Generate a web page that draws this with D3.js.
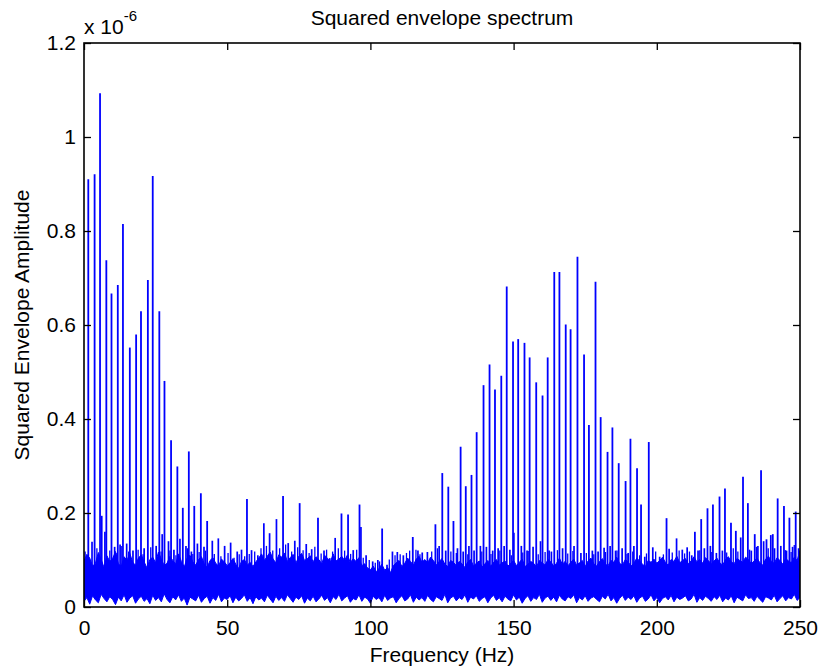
<!DOCTYPE html>
<html>
<head>
<meta charset="utf-8">
<script src="https://cdn.jsdelivr.net/npm/d3@7"></script>
<style>
  body { margin: 0; background: #fff; }
  svg text { font-family: "Liberation Sans", Arial, Helvetica, sans-serif; fill: #000; }
</style>
</head>
<body>
<div id="chart"></div>
<script>
const width = 819
const height = 670
const margin = {top: 43, right: 19, bottom: 63, left: 84}

// tick labels
const xTicks = [0, 50, 100, 150, 200, 250]
const yTicks = [0, 0.2, 0.4, 0.6, 0.8, 1, 1.2]

// harmonic peaks (Hz, amplitude x 1e-6)
const peakHz = [1.5, 3.7, 5.6, 7.8, 9.6, 11.8, 13.6, 16.0, 18.2, 19.9, 22.3, 24.0, 26.3, 28.1, 30.4, 32.6, 34.5, 36.6, 38.5, 40.8, 43.0,
  56.9, 69.5, 75.3, 81.7, 89.9, 92.2, 96.2, 104.1, 114.8, 122.7,
  125.1, 127.2, 129.0, 131.5, 133.3, 135.3, 137.1, 139.5, 141.6, 143.5, 145.7, 147.6, 149.8, 151.6, 153.8, 155.6, 157.9, 160.1, 161.9,
  164.2, 166.0, 168.2, 169.9, 172.3, 174.6, 176.3, 178.6, 180.4, 182.8, 184.5, 186.7, 189.1, 190.8, 193.1, 194.5, 197.2,
  203.4, 213.3, 215.5, 217.7, 219.6, 221.9, 223.8, 225.9, 227.6, 230.1, 231.8, 234.2, 236.4, 238.3, 240.5, 242.2, 244.4, 246.3, 248.5]
const peakAmp = [0.910, 0.921, 1.093, 0.738, 0.667, 0.685, 0.815, 0.552, 0.580, 0.629, 0.696, 0.917, 0.629, 0.481, 0.355, 0.299, 0.211, 0.331, 0.215, 0.242, 0.183,
  0.230, 0.236, 0.221, 0.190, 0.199, 0.197, 0.218, 0.167, 0.149, 0.176,
  0.285, 0.256, 0.183, 0.341, 0.257, 0.281, 0.372, 0.472, 0.516, 0.463, 0.492, 0.682, 0.565, 0.570, 0.562, 0.531, 0.478, 0.450, 0.531,
  0.713, 0.713, 0.601, 0.591, 0.745, 0.537, 0.387, 0.692, 0.404, 0.330, 0.382, 0.306, 0.268, 0.358, 0.295, 0.218, 0.351,
  0.189, 0.160, 0.187, 0.210, 0.218, 0.235, 0.252, 0.179, 0.162, 0.277, 0.221, 0.155, 0.291, 0.144, 0.155, 0.231, 0.215, 0.190, 0.203]

// noise spikes poking out of the floor
const spikeHz = [2.8, 6.2, 7.3, 10.7, 12.6, 14.9, 17.1, 21.0, 25.2, 27.3, 29.5, 31.4, 33.5, 35.6, 37.5, 39.6, 41.9, 44.8, 46.9, 49.1,
  51.2, 53.5, 55.0, 58.5, 60.7, 62.8, 64.8, 67.2, 71.3, 73.6, 77.6, 79.5, 83.8, 85.8, 87.7, 94.0, 96.7, 98.5, 100.8, 102.6,
  105.8, 107.7, 109.4, 111.5, 116.6, 118.1, 119.9, 124.0, 126.3, 130.4, 132.4, 134.4, 136.2, 138.4, 140.5, 142.7, 144.6, 146.7, 148.7, 150.1,
  152.7, 154.7, 156.8, 159.4, 162.4, 163.2, 167.1, 171.1, 173.5, 177.5, 179.5, 181.6, 183.7, 185.6, 187.9, 190.0, 192.0, 195.8, 198.6, 201.0,
  204.3, 206.9, 208.9, 210.6, 212.2, 214.4, 216.6, 218.7, 220.8, 222.9, 229.3, 233.0, 235.3, 237.3, 239.8, 241.1, 243.3, 245.3, 247.4, 249.5]
const spikeAmp = [0.139, 0.194, 0.160, 0.128, 0.133, 0.135, 0.120, 0.125, 0.130, 0.155, 0.140, 0.122, 0.145, 0.130, 0.118, 0.135, 0.128, 0.141, 0.146, 0.130,
  0.137, 0.118, 0.122, 0.121, 0.110, 0.178, 0.157, 0.187, 0.136, 0.141, 0.134, 0.123, 0.120, 0.104, 0.147, 0.121, 0.170, 0.110, 0.097, 0.100,
  0.090, 0.118, 0.117, 0.110, 0.120, 0.116, 0.117, 0.130, 0.120, 0.125, 0.118, 0.130, 0.120, 0.130, 0.128, 0.120, 0.125, 0.130, 0.122, 0.158,
  0.130, 0.120, 0.128, 0.140, 0.120, 0.118, 0.125, 0.130, 0.115, 0.120, 0.118, 0.126, 0.130, 0.120, 0.125, 0.115, 0.130, 0.107, 0.127, 0.107,
  0.124, 0.146, 0.122, 0.127, 0.110, 0.120, 0.125, 0.130, 0.115, 0.120, 0.148, 0.120, 0.130, 0.140, 0.153, 0.125, 0.130, 0.120, 0.128, 0.125]

// thinner flickers along the top of the floor
const minorHz = [0.4, 4.5, 9.0, 11.2, 13.0, 15.6, 18.9, 20.6, 23.3, 26.9, 30.0, 32.1, 36.1, 38.0, 40.2, 42.4, 45.5, 47.8, 50.3, 52.4,
  54.2, 56.1, 57.7, 59.6, 61.8, 63.7, 65.9, 68.3, 70.4, 72.5, 74.6, 76.5, 78.6, 80.6, 82.8, 84.7, 86.8, 88.8, 91.0, 93.1,
  95.2, 97.5, 99.6, 101.7, 103.2, 106.6, 108.6, 110.4, 112.6, 113.7, 115.9, 117.3, 121.4, 123.4, 128.1, 130.0, 134.0, 138.9, 142.1, 145.2,
  149.2, 153.2, 155.1, 158.6, 161.0, 165.3, 168.9, 170.7, 175.4, 178.0, 182.1, 186.1, 189.6, 191.6, 194.0, 196.4, 199.6, 202.3, 205.4, 207.8,
  209.7, 211.4, 215.0, 219.2, 224.4, 226.7, 228.3, 232.4, 234.8, 238.9, 244.9, 246.9, 248.0]
const minorAmp = [0.118, 0.125, 0.120, 0.115, 0.130, 0.118, 0.122, 0.112, 0.127, 0.118, 0.120, 0.110, 0.125, 0.113, 0.117, 0.120, 0.113, 0.108, 0.115, 0.105,
  0.112, 0.108, 0.113, 0.118, 0.125, 0.130, 0.120, 0.125, 0.133, 0.118, 0.127, 0.121, 0.115, 0.128, 0.114, 0.122, 0.118, 0.125, 0.120, 0.113,
  0.122, 0.105, 0.100, 0.094, 0.097, 0.101, 0.110, 0.112, 0.115, 0.120, 0.122, 0.112, 0.118, 0.125, 0.118, 0.115, 0.112, 0.118, 0.113, 0.120,
  0.110, 0.116, 0.119, 0.112, 0.117, 0.121, 0.114, 0.119, 0.115, 0.112, 0.117, 0.120, 0.113, 0.118, 0.110, 0.114, 0.118, 0.112, 0.116, 0.120,
  0.114, 0.118, 0.121, 0.117, 0.116, 0.125, 0.118, 0.122, 0.128, 0.125, 0.121, 0.117, 0.132]

// dense noise floor, one value per Hz (0..250): upper and lower edge
const floorTop = [
  .098, .112, .104, .087, .093, .116, .101, .084, .109, .097,
  .103, .118, .092, .086, .107, .099, .114, .095, .089, .104,
  .111, .096, .083, .101, .106, .094, .117, .102, .088, .093,
  .108, .099, .091, .113, .097, .085, .104, .110, .096, .089,
  .101, .107, .092, .084, .099, .105, .093, .087, .102, .096,
  .088, .094, .103, .091, .082, .097, .101, .089, .095, .086,
  .096, .104, .113, .099, .108, .117, .102, .094, .111, .106,
  .115, .097, .105, .112, .093, .108, .114, .099, .103, .109,
  .096, .107, .101, .092, .110, .104, .095, .113, .098, .102,
  .108, .099, .111, .094, .103, .097, .105, .088, .092, .083,
  .079, .087, .075, .082, .091, .078, .084, .073, .088, .094,
  .099, .086, .093, .104, .097, .089, .102, .108, .095, .101,
  .094, .106, .099, .089, .097, .103, .091, .086, .099, .095,
  .088, .097, .092, .084, .096, .101, .087, .093, .098, .085,
  .092, .099, .086, .095, .101, .089, .094, .098, .087, .093,
  .099, .088, .095, .102, .086, .091, .097, .093, .085, .099,
  .094, .089, .101, .096, .087, .093, .104, .091, .097, .088,
  .095, .102, .089, .094, .099, .086, .098, .104, .092, .087,
  .097, .103, .091, .088, .099, .095, .106, .093, .089, .101,
  .096, .087, .093, .104, .098, .091, .086, .099, .095, .102,
  .093, .099, .106, .095, .089, .101, .097, .108, .094, .099,
  .103, .092, .098, .107, .096, .101, .093, .105, .099, .091,
  .098, .104, .094, .089, .101, .107, .096, .092, .103, .099,
  .095, .106, .101, .092, .098, .104, .094, .089, .102, .108,
  .097, .093, .105, .099, .091, .103, .098, .094, .106, .099,
  .120]
const floorLow = [
  .012, .020, .006, .024, .015, .009, .027, .018, .011, .022,
  .016, .005, .021, .013, .026, .010, .019, .024, .008, .017,
  .023, .012, .018, .007, .025, .014, .020, .011, .028, .016,
  .009, .022, .015, .026, .012, .019, .004, .021, .017, .013,
  .025, .010, .018, .023, .008, .020, .014, .027, .011, .019,
  .016, .024, .009, .021, .013, .018, .026, .012, .020, .007,
  .022, .015, .019, .011, .025, .017, .009, .023, .014, .020,
  .012, .026, .018, .010, .021, .016, .024, .008, .019, .013,
  .023, .011, .017, .025, .014, .020, .009, .022, .016, .027,
  .013, .019, .024, .010, .018, .015, .026, .012, .021, .017,
  .008, .023, .016, .020, .011, .025, .014, .019, .022, .009,
  .018, .024, .013, .017, .026, .010, .021, .015, .020, .012,
  .025, .016, .011, .022, .018, .014, .027, .009, .019, .023,
  .013, .020, .016, .026, .010, .021, .017, .024, .012, .018,
  .022, .009, .019, .025, .014, .020, .011, .023, .017, .013,
  .026, .015, .021, .008, .018, .024, .012, .020, .016, .027,
  .010, .019, .023, .014, .021, .011, .025, .017, .013, .022,
  .018, .026, .009, .020, .015, .024, .012, .019, .022, .016,
  .011, .023, .017, .027, .013, .020, .008, .018, .025, .014,
  .021, .016, .024, .010, .019, .023, .012, .017, .026, .013,
  .020, .009, .018, .022, .015, .025, .011, .021, .016, .019,
  .024, .013, .017, .027, .010, .020, .014, .023, .018, .012,
  .022, .016, .025, .011, .019, .015, .024, .009, .021, .017,
  .013, .026, .018, .020, .012, .023, .016, .010, .022, .019,
  .015, .025, .011, .018, .024, .013, .020, .017, .027, .014,
  .020]

const blue = "#0000ff"
const font = 21

const svg = d3.select("#chart").append("svg")
  .attr("width", width)
  .attr("height", height)

const x = d3.scaleLinear().domain([0, 250]).range([margin.left, width - margin.right])
const y = d3.scaleLinear().domain([0, 1.2]).range([height - margin.bottom, margin.top])

svg.append("clipPath").attr("id", "plotclip")
  .append("rect")
  .attr("x", x(0)).attr("y", y(1.2))
  .attr("width", x(250) - x(0)).attr("height", y(0) - y(1.2))

const plot = svg.append("g").attr("clip-path", "url(#plotclip)")

/* noise floor */
const floorData = floorTop.map((t, i) => ({hz: i, top: t, low: floorLow[i]}))

plot.append("path")
  .datum(floorData)
  .attr("fill", blue)
  .attr("stroke", blue)
  .attr("stroke-width", 1)
  .attr("d", d3.area().x(d => x(d.hz)).y0(d => y(d.low)).y1(d => y(d.top)))

/* flickers + spikes + harmonics, all vertical lines */
function stems(cls, hz, amp, base, w) {
  const rows = hz.map((h, i) => ({hz: h, amp: amp[i]}))
  plot.selectAll("." + cls).data(rows).join("line")
    .attr("class", cls)
    .attr("x1", d => x(d.hz)).attr("x2", d => x(d.hz))
    .attr("y1", y(base)).attr("y2", d => y(d.amp))
    .attr("stroke", blue).attr("stroke-width", w)
}

stems("minor", minorHz, minorAmp, 0.06, 1.3)
stems("spike", spikeHz, spikeAmp, 0.05, 1.7)
stems("peak", peakHz, peakAmp, 0.03, 1.8)

/* axes, matlab style: ticks inside on all four sides */
const tickLen = 7

svg.append("g")
  .attr("transform", `translate(0,${y(0)})`)
  .call(d3.axisBottom(x).tickValues(xTicks).tickFormat(d => d)
    .tickSizeInner(-tickLen).tickSizeOuter(0).tickPadding(13))

svg.append("g")
  .attr("transform", `translate(0,${y(1.2)})`)
  .call(d3.axisTop(x).tickValues(xTicks).tickFormat("")
    .tickSizeInner(-tickLen).tickSizeOuter(0))

svg.append("g")
  .attr("transform", `translate(${x(0)},0)`)
  .call(d3.axisLeft(y).tickValues(yTicks).tickFormat(d => String(d))
    .tickSizeInner(-tickLen).tickSizeOuter(0).tickPadding(8))

svg.append("g")
  .attr("transform", `translate(${x(250)},0)`)
  .call(d3.axisRight(y).tickValues(yTicks).tickFormat("")
    .tickSizeInner(-tickLen).tickSizeOuter(0))

svg.selectAll(".domain").remove()
svg.selectAll(".tick line").attr("stroke", "#000").attr("stroke-width", 1.3)
svg.selectAll(".tick text")
  .style("font-size", font + "px")
  .style("font-family", "'Liberation Sans', Arial, Helvetica, sans-serif")
  .attr("fill", "#000")

svg.append("rect")
  .attr("x", x(0)).attr("y", y(1.2))
  .attr("width", x(250) - x(0)).attr("height", y(0) - y(1.2))
  .attr("fill", "none").attr("stroke", "#000").attr("stroke-width", 1.6)

/* texts */
svg.append("text")
  .attr("x", (x(0) + x(250)) / 2).attr("y", 25)
  .attr("text-anchor", "middle")
  .style("font-size", font + "px")
  .text("Squared envelope spectrum")

const mult = svg.append("text")
  .attr("x", x(0)).attr("y", 34)
  .style("font-size", font + "px")
mult.append("tspan").text("x 10")
mult.append("tspan").attr("dy", -13).style("font-size", "15px").text("-6")

svg.append("text")
  .attr("x", (x(0) + x(250)) / 2).attr("y", 662)
  .attr("text-anchor", "middle")
  .style("font-size", font + "px")
  .text("Frequency (Hz)")

svg.append("text")
  .attr("transform", `translate(29,${(y(0) + y(1.2)) / 2}) rotate(-90)`)
  .attr("text-anchor", "middle")
  .style("font-size", font + "px")
  .text("Squared Envelope Amplitude")
</script>
</body>
</html>
